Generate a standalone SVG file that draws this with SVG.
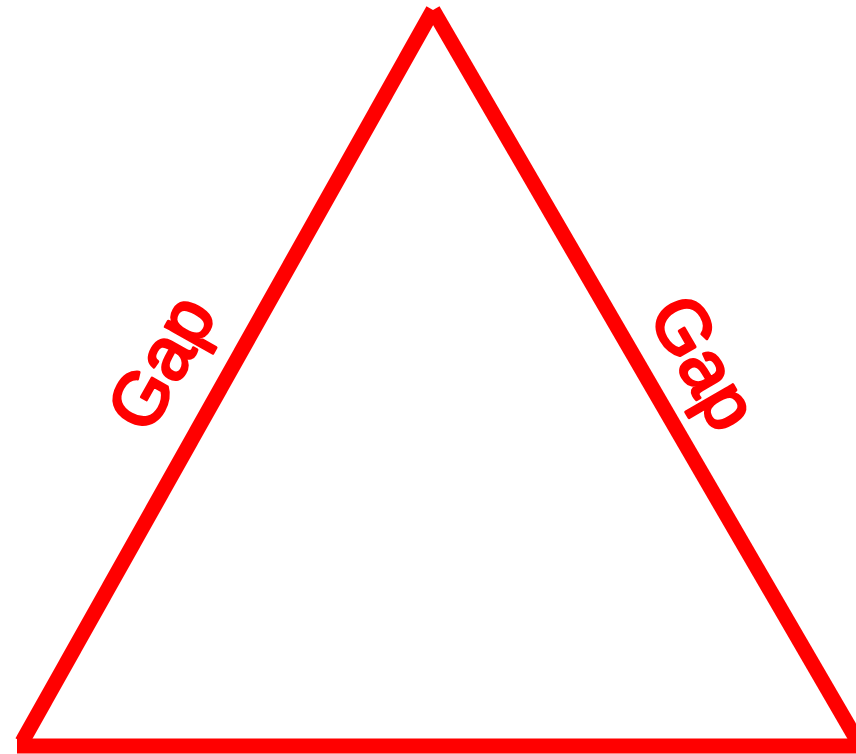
<svg xmlns="http://www.w3.org/2000/svg" width="856" height="754" viewBox="0 0 856 754">
<style>
.edge{stroke:#ff0000;stroke-width:15;fill:none;stroke-linecap:butt}
.lbl{font-family:"Liberation Sans",Arial,sans-serif;font-size:74px;fill:#ff0000;stroke:#ff0000;stroke-width:3;stroke-linejoin:round;text-anchor:middle}
</style>
<rect width="856" height="754" fill="#ffffff"/>
<g id="connectors">
<line class="edge" x1="22" y1="742" x2="433" y2="10"/>
<line class="edge" x1="433" y1="10" x2="858" y2="742"/>
<line class="edge" x1="17" y1="746" x2="856" y2="746" stroke-width="16"/>
</g>
<g id="label-left">
<text class="lbl" transform="translate(183,375) rotate(-60.7)">Gap</text>
</g>
<g id="label-right">
<text class="lbl" transform="translate(682,375) rotate(60)">Gap</text>
</g>
</svg>
